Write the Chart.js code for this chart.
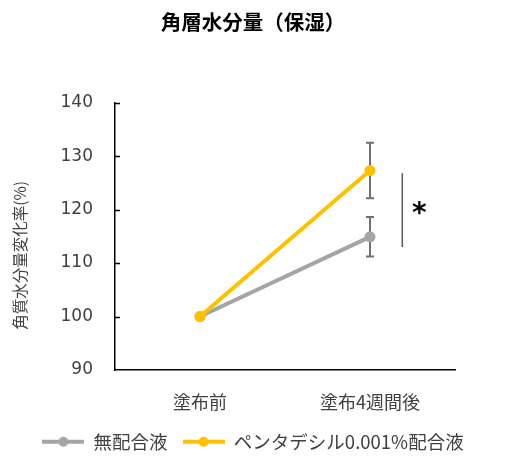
<!DOCTYPE html>
<html>
<head>
<meta charset="utf-8">
<script src="https://cdn.jsdelivr.net/npm/chart.js@4"></script>
<style>
  html, body { margin: 0; padding: 0; background: #fff; }
  #wrap { width: 506px; height: 466px; }
</style>
</head>
<body>
<div id="wrap"><canvas id="chart" width="506" height="466"></canvas></div>
<script>
// data
var categories = ['塗布前', '塗布4週間後'];
var seriesNames = ['無配合液', 'ペンタデシル0.001%配合液'];
var controlValues = [100, 114.9];
var controlErrors = [0, 3.7];
var pentaValues = [100, 127.3];
var pentaErrors = [0, 5.2];
var yTicks = [90, 100, 110, 120, 130, 140];
var sigRange = [113.0, 126.8];   // significance bar between the two groups
var sigMark = '*';

var titleText = '角層水分量（保湿）';
var yTitleText = '角質水分量変化率(%)';

var grayColor = '#A5A5A5';
var yellowColor = '#FFC000';
var errColor = '#707070';
var textColor = '#404040';
var cjk = '"Noto Sans CJK JP", "Noto Sans", sans-serif';

function legendMarker(color) {
    var c = document.createElement('canvas');
    c.width = 42;
    c.height = 12;
    var g = c.getContext('2d');
    g.strokeStyle = color;
    g.lineWidth = 4;
    g.beginPath();
    g.moveTo(0, 6);
    g.lineTo(42, 6);
    g.stroke();
    g.fillStyle = color;
    g.beginPath();
    g.arc(21, 6, 5, 0, Math.PI * 2);
    g.fill();
    return c;
}

var extras = {
    id: 'extras',
    beforeDatasetsDraw: function (chart) {
        var ctx = chart.ctx;
        var xs = chart.scales.x, ys = chart.scales.y;
        // error bars (under the points)
        chart.data.datasets.forEach(function (ds) {
            ds.data.forEach(function (v, i) {
                var e = ds.errors[i];
                if (!e) return;
                var x = xs.getPixelForValue(i);
                var top = ys.getPixelForValue(v + e);
                var bot = ys.getPixelForValue(v - e);
                ctx.save();
                ctx.strokeStyle = errColor;
                ctx.lineWidth = 2;
                ctx.beginPath();
                ctx.moveTo(x, top); ctx.lineTo(x, bot);
                ctx.moveTo(x - 4, top); ctx.lineTo(x + 4, top);
                ctx.moveTo(x - 4, bot); ctx.lineTo(x + 4, bot);
                ctx.stroke();
                ctx.restore();
            });
        });
    },
    afterDraw: function (chart) {
        var ctx = chart.ctx;
        var xs = chart.scales.x, ys = chart.scales.y;
        var area = chart.chartArea;

        // inward tick marks on the y axis
        ctx.save();
        ctx.strokeStyle = '#000';
        ctx.lineWidth = 1.5;
        ctx.beginPath();
        yTicks.slice(1).forEach(function (t) {
            var y = Math.round(ys.getPixelForValue(t)) + 0.5;
            ctx.moveTo(area.left, y);
            ctx.lineTo(area.left + 5, y);
        });
        ctx.stroke();
        ctx.restore();

        // significance bar + asterisk
        var catW = xs.width / categories.length;
        var sx = xs.getPixelForValue(1) + catW * 0.19;
        var y1 = ys.getPixelForValue(sigRange[0]);
        var y2 = ys.getPixelForValue(sigRange[1]);
        ctx.save();
        ctx.strokeStyle = '#595959';
        ctx.lineWidth = 1.5;
        ctx.beginPath();
        ctx.moveTo(sx, y1);
        ctx.lineTo(sx, y2);
        ctx.stroke();
        ctx.fillStyle = '#000';
        ctx.font = 'bold 28px "DejaVu Sans", sans-serif';
        ctx.textAlign = 'center';
        ctx.textBaseline = 'alphabetic';
        var m = ctx.measureText(sigMark);
        var cy = (y1 + y2) / 2 - 2;
        var base = cy - (m.actualBoundingBoxDescent - m.actualBoundingBoxAscent) / 2;
        ctx.fillText(sigMark, sx + 17, base);
        ctx.restore();

        // y axis title
        ctx.save();
        ctx.fillStyle = '#404040';
        ctx.font = '15.5px ' + cjk;
        ctx.textAlign = 'center';
        ctx.textBaseline = 'middle';
        ctx.translate(20, (area.top + area.bottom) / 2 + 19);
        ctx.rotate(-Math.PI / 2);
        ctx.fillText(yTitleText, 0, 0);
        ctx.restore();
    }
};

var ctx = document.getElementById('chart').getContext('2d');
var chart = new Chart(ctx, {
    type: 'line',
    data: {
        labels: categories,
        datasets: [
            {
                label: seriesNames[0],
                data: controlValues,
                errors: controlErrors,
                borderColor: grayColor,
                backgroundColor: grayColor,
                borderWidth: 4,
                pointRadius: 5.5,
                pointBorderWidth: 0,
                order: 1,
                marker: legendMarker(grayColor)
            },
            {
                label: seriesNames[1],
                data: pentaValues,
                errors: pentaErrors,
                borderColor: yellowColor,
                backgroundColor: yellowColor,
                borderWidth: 4,
                pointRadius: 5.5,
                pointBorderWidth: 0,
                order: 0,
                marker: legendMarker(yellowColor)
            }
        ]
    },
    options: {
        responsive: false,
        animation: false,
        layout: {padding: {left: 0, right: 0, top: 0, bottom: 5}},
        plugins: {
            tooltip: {enabled: false},
            title: {
                display: true,
                text: titleText,
                color: '#000',
                font: {family: cjk, size: 20.5, weight: 'bold'},
                padding: {top: 10, bottom: 68}
            },
            legend: {
                position: 'bottom',
                labels: {
                    usePointStyle: true,
                    pointStyleWidth: 42,
                    color: textColor,
                    padding: 15,
                    font: {family: cjk, size: 18.5},
                    generateLabels: function (chart) {
                        return chart.data.datasets.map(function (ds, i) {
                            return {
                                text: ds.label,
                                pointStyle: ds.marker,
                                fontColor: textColor,
                                lineWidth: 0,
                                strokeStyle: ds.borderColor,
                                fillStyle: ds.backgroundColor,
                                datasetIndex: i
                            };
                        });
                    }
                }
            }
        },
        scales: {
            x: {
                offset: true,
                afterFit: function (scale) { scale.height = 47.5; },
                grid: {display: false, drawTicks: false},
                border: {display: true, color: '#000', width: 1.5},
                ticks: {color: textColor, padding: 21, font: {family: cjk, size: 18}}
            },
            y: {
                min: yTicks[0],
                max: yTicks[yTicks.length - 1],
                afterFit: function (scale) { scale.width = 115; },
                afterBuildTicks: function (scale) {
                    scale.ticks = yTicks.map(function (v) { return {value: v}; });
                },
                grid: {display: false, drawTicks: false},
                border: {display: true, color: '#000', width: 1.5},
                ticks: {color: textColor, padding: 22, font: {family: '"DejaVu Sans", sans-serif', size: 17}}
            },
            // empty right-hand axis, only reserves the blank margin right of the plot
            yRight: {
                position: 'right',
                afterFit: function (scale) { scale.width = 51; },
                grid: {display: false, drawTicks: false},
                border: {display: false},
                ticks: {display: false}
            }
        }
    },
    plugins: [extras]
});
</script>
</body>
</html>
